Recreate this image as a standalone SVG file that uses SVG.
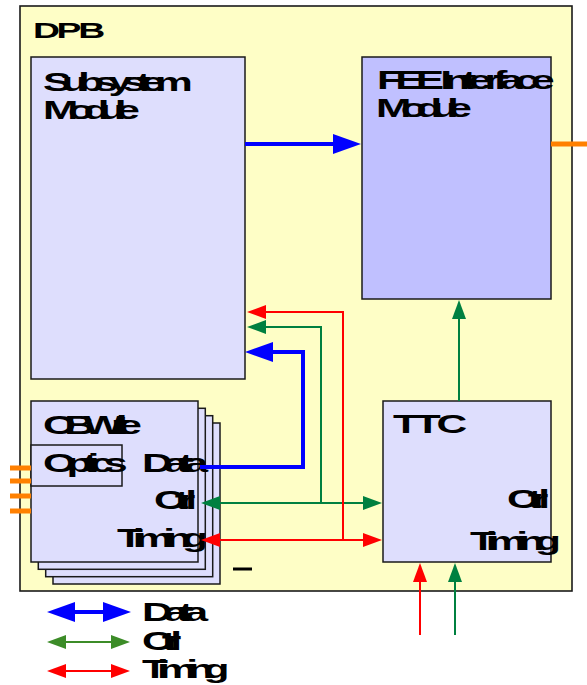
<svg xmlns="http://www.w3.org/2000/svg" width="587" height="685" viewBox="0 0 587 685">
<style>
.box{fill:#dedefd;stroke:#1a1a1a;stroke-width:1.5}
.fee{fill:#c0c0ff;stroke:#1a1a1a;stroke-width:1.5}
.outer{fill:#fefec6;stroke:#1a1a1a;stroke-width:1.6}
.t{font-family:"Liberation Sans",Arial,sans-serif;font-size:25px;font-weight:bold;fill:#000}
.t22{font-size:22px}
.blue{fill:none;stroke:#0000ff;stroke-width:4}
.green{fill:none;stroke:#008040;stroke-width:2}
.red{fill:none;stroke:#ff0000;stroke-width:2}
.lgreen{fill:none;stroke:#3c8c28;stroke-width:2}
.orange{fill:none;stroke:#ff8000;stroke-width:5}
</style>
<defs>
<marker id="aB" markerUnits="userSpaceOnUse" markerWidth="28" markerHeight="20" viewBox="0 0 28 20" refX="0" refY="10" orient="auto-start-reverse"><path d="M0,0 L28,10 L0,20 z" fill="#0000ff"/></marker>
<marker id="aG" markerUnits="userSpaceOnUse" markerWidth="19" markerHeight="14" viewBox="0 0 19 14" refX="0" refY="7" orient="auto-start-reverse"><path d="M0,0 L19,7 L0,14 z" fill="#008040"/></marker>
<marker id="aR" markerUnits="userSpaceOnUse" markerWidth="19" markerHeight="14" viewBox="0 0 19 14" refX="0" refY="7" orient="auto-start-reverse"><path d="M0,0 L19,7 L0,14 z" fill="#ff0000"/></marker>
<marker id="aLG" markerUnits="userSpaceOnUse" markerWidth="19" markerHeight="14" viewBox="0 0 19 14" refX="0" refY="7" orient="auto-start-reverse"><path d="M0,0 L19,7 L0,14 z" fill="#3c8c28"/></marker>
</defs>

<g id="dpb">
<rect class="outer" x="20" y="6" width="552" height="585"/>
<text class="t t22" transform="translate(33,38) scale(1.7,1)" style="letter-spacing:-2px">DPB</text>
</g>

<g id="subsystem">
<rect class="box" x="31" y="57" width="214" height="322"/>
<text class="t" transform="translate(43,91) scale(1.7,1)" style="letter-spacing:-5.65px">Subsystem</text>
<text class="t" transform="translate(43,119) scale(1.7,1)" style="letter-spacing:-6.1px">Module</text>
</g>

<g id="fee">
<rect class="fee" x="362" y="57" width="189" height="242"/>
<text class="t" transform="translate(377,89) scale(1.7,1)" style="letter-spacing:-4.6px">FEE Interface</text>
<text class="t" transform="translate(376,117) scale(1.7,1)" style="letter-spacing:-6.2px">Module</text>
</g>

<g id="ttc">
<rect class="box" x="383" y="401" width="168" height="161"/>
<text class="t" transform="translate(393,433) scale(1.7,1)" style="letter-spacing:-2.5px">TTC</text>
<text class="t" transform="translate(507,508) scale(1.7,1)" style="letter-spacing:-5.9px">Ctrl</text>
<text class="t" transform="translate(470,550) scale(1.7,1)" style="letter-spacing:-5.6px">Timing</text>
</g>

<g id="obwrite">
<rect class="box" x="53" y="423" width="167" height="161"/>
<rect class="box" x="45.7" y="415.7" width="167" height="161"/>
<rect class="box" x="38.3" y="408.3" width="167" height="161"/>
<rect class="box" x="31" y="401" width="167" height="161"/>
<rect class="box" x="31" y="445" width="91" height="41"/>
<text class="t" transform="translate(43,434) scale(1.7,1)" style="letter-spacing:-6.9px">OB Write</text>
<text class="t" transform="translate(43,472) scale(1.7,1)" style="letter-spacing:-5.6px">Optics</text>
<text class="t" transform="translate(142,472) scale(1.7,1)" style="letter-spacing:-5.1px">Data</text>
<text class="t" transform="translate(154,509) scale(1.7,1)" style="letter-spacing:-5.9px">Ctrl</text>
<text class="t" transform="translate(117,547) scale(1.7,1)" style="letter-spacing:-5.6px">Timing</text>
<rect x="233" y="567.5" width="19" height="3" fill="#000"/>
</g>

<g id="connectors">
<line class="blue" x1="245" y1="144" x2="333" y2="144" marker-end="url(#aB)"/>
<path class="blue" d="M200,467 H303 V352 H273" marker-end="url(#aB)"/>
<line class="green" x1="220" y1="503" x2="363" y2="503" marker-start="url(#aG)" marker-end="url(#aG)"/>
<path class="green" d="M321,503 V327 H266" marker-end="url(#aG)"/>
<line class="red" x1="220" y1="540" x2="363" y2="540" marker-start="url(#aR)" marker-end="url(#aR)"/>
<path class="red" d="M343,540 V312 H266" marker-end="url(#aR)"/>
<line class="green" x1="459" y1="401" x2="459" y2="319" marker-end="url(#aG)"/>
<line class="red" x1="420" y1="635" x2="420" y2="582" marker-end="url(#aR)"/>
<line class="green" x1="455" y1="635" x2="455" y2="582" marker-end="url(#aG)"/>
<line class="orange" x1="551" y1="144" x2="587" y2="144"/>
<line class="orange" x1="10" y1="468" x2="31" y2="468"/>
<line class="orange" x1="10" y1="481" x2="31" y2="481"/>
<line class="orange" x1="10" y1="496" x2="31" y2="496"/>
<line class="orange" x1="10" y1="511" x2="31" y2="511"/>
</g>

<g id="legend">
<line class="blue" x1="75" y1="612" x2="103" y2="612" marker-start="url(#aB)" marker-end="url(#aB)"/>
<line class="lgreen" x1="66" y1="642" x2="111" y2="642" marker-start="url(#aLG)" marker-end="url(#aLG)"/>
<line class="red" x1="66" y1="671" x2="111" y2="671" marker-start="url(#aR)" marker-end="url(#aR)"/>
<text class="t" transform="translate(142,621) scale(1.7,1)" style="letter-spacing:-5.1px">Data</text>
<text class="t" transform="translate(142,650) scale(1.7,1)" style="letter-spacing:-6.5px">Ctrl</text>
<text class="t" transform="translate(142,678) scale(1.7,1)" style="letter-spacing:-6px">Timing</text>
</g>
</svg>
